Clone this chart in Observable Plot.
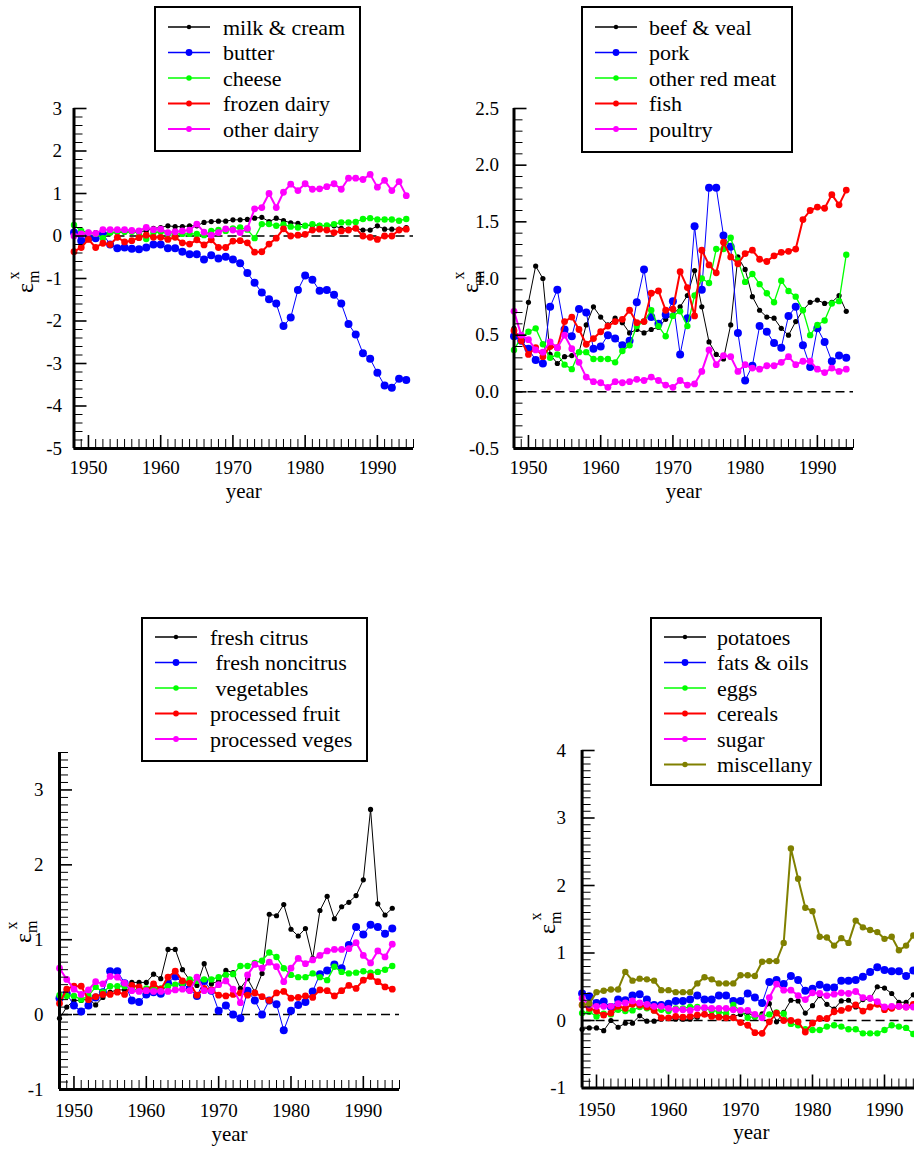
<!DOCTYPE html>
<html><head><meta charset="utf-8">
<script src="https://cdn.jsdelivr.net/npm/d3@7"></script>
<script src="https://cdn.jsdelivr.net/npm/@observablehq/plot@0.6"></script>
<style>
html,body{margin:0;padding:0;background:#fff;overflow:hidden;}
#root{position:relative;width:914px;height:1152px;overflow:hidden;background:#fff;font-family:"Liberation Serif",serif;}
.panel{position:absolute;}
#overlay{position:absolute;left:0;top:0;}
</style></head><body><div id="root"></div>
<script>
const FONT = "Liberation Serif, Times New Roman, serif";

const years = [1948,1949,1950,1951,1952,1953,1954,1955,1956,1957,1958,1959,1960,1961,1962,1963,1964,1965,1966,1967,1968,1969,1970,1971,1972,1973,1974,1975,1976,1977,1978,1979,1980,1981,1982,1983,1984,1985,1986,1987,1988,1989,1990,1991,1992,1993,1994];
const xTickLabels = [1950,1960,1970,1980,1990];

// Panel 1: dairy
const milkCream = [0.00,0.02,0.03,0.08,0.06,0.07,0.08,0.09,0.10,0.10,
 0.12,0.18,0.20,0.24,0.22,0.22,0.24,0.24,0.32,0.34,
 0.35,0.35,0.38,0.38,0.39,0.42,0.44,0.34,0.42,0.36,
 0.31,0.30,0.24,0.25,0.25,0.24,0.24,0.18,0.16,0.18,
 0.14,0.14,0.24,0.16,0.16,0.16,0.20];
const butter = [0.08,-0.11,-0.05,-0.05,0.05,-0.20,-0.29,-0.27,-0.30,-0.31,
 -0.27,-0.20,-0.20,-0.29,-0.29,-0.37,-0.43,-0.43,-0.55,-0.45,
 -0.53,-0.49,-0.55,-0.64,-0.87,-1.10,-1.33,-1.49,-1.59,-2.12,
 -1.92,-1.27,-0.93,-1.03,-1.29,-1.27,-1.38,-1.59,-2.07,-2.32,
 -2.76,-2.89,-3.22,-3.52,-3.57,-3.36,-3.39];
const cheese = [0.26,0.12,0.08,0.05,-0.05,0.08,0.10,0.10,0.10,0.08,
 -0.07,0.08,0.10,0.05,0.05,0.05,0.05,0.05,0.02,0.12,
 0.14,0.12,0.18,0.20,0.15,-0.05,0.28,0.28,0.24,0.27,
 0.22,0.20,0.24,0.28,0.24,0.25,0.28,0.32,0.32,0.33,
 0.40,0.42,0.39,0.39,0.39,0.36,0.40];
const frozenDairy = [-0.37,-0.27,-0.08,-0.27,-0.17,-0.20,-0.03,-0.14,-0.11,-0.04,
 0.02,-0.03,-0.03,-0.08,-0.03,-0.16,-0.19,-0.09,-0.21,-0.09,
 -0.27,-0.27,-0.12,-0.11,-0.16,-0.38,-0.37,-0.19,-0.05,0.17,
 0.00,0.02,0.04,0.14,0.16,0.14,0.08,0.12,0.14,0.18,
 0.00,-0.03,-0.08,0.00,0.00,0.14,0.16];
const otherDairy = [0.00,0.05,0.08,0.06,0.15,0.15,0.15,0.15,0.13,0.12,
 0.20,0.15,0.16,0.08,0.10,0.12,0.14,0.28,0.09,0.02,
 0.08,0.17,0.14,0.08,0.18,0.64,0.67,1.00,0.67,1.03,
 1.22,1.07,1.23,1.10,1.11,1.16,1.23,1.10,1.36,1.36,
 1.33,1.45,1.15,1.31,1.07,1.28,0.95];

// Panel 2: meats
const beefVeal = [0.56,0.45,0.79,1.11,1.00,0.33,0.25,0.31,0.32,0.35,
 0.59,0.75,0.66,0.59,0.65,0.61,0.52,0.55,0.52,0.55,
 0.57,0.64,0.68,0.75,0.85,1.07,0.75,0.44,0.33,0.29,
 0.59,1.19,1.08,0.84,0.72,0.66,0.65,0.56,0.50,0.62,
 0.72,0.79,0.81,0.78,0.79,0.85,0.71];
const pork = [0.49,0.45,0.38,0.28,0.25,0.75,0.90,0.55,0.49,0.73,
 0.70,0.38,0.40,0.50,0.47,0.41,0.45,0.79,1.08,0.66,
 0.60,0.68,0.80,0.33,0.65,1.46,0.90,1.80,1.80,1.38,
 1.28,0.52,0.10,0.23,0.58,0.53,0.43,0.39,0.67,0.75,
 0.41,0.22,0.56,0.44,0.27,0.32,0.30];
const otherRedMeat = [0.37,0.48,0.53,0.56,0.42,0.30,0.33,0.24,0.20,0.35,
 0.35,0.29,0.29,0.29,0.26,0.36,0.41,0.58,0.62,0.72,
 0.58,0.49,0.67,0.71,0.58,0.85,1.00,0.96,1.26,1.26,
 1.36,1.16,0.97,1.04,0.95,0.87,0.79,0.98,0.89,0.84,
 0.72,0.50,0.59,0.63,0.78,0.80,1.21];
const fish = [0.54,0.45,0.33,0.39,0.31,0.40,0.39,0.62,0.66,0.55,
 0.42,0.47,0.53,0.58,0.62,0.64,0.72,0.61,0.62,0.87,
 0.89,0.72,0.73,1.06,0.92,0.67,1.25,1.12,1.05,1.32,
 1.19,1.13,1.22,1.25,1.17,1.15,1.20,1.23,1.24,1.26,
 1.52,1.60,1.63,1.62,1.74,1.65,1.78];
const poultry = [0.71,0.50,0.46,0.37,0.35,0.44,0.39,0.50,0.38,0.26,
 0.13,0.09,0.08,0.04,0.09,0.08,0.09,0.11,0.10,0.13,
 0.10,0.06,0.04,0.10,0.06,0.07,0.18,0.37,0.24,0.32,
 0.31,0.18,0.24,0.21,0.20,0.23,0.23,0.26,0.31,0.24,
 0.27,0.27,0.20,0.17,0.21,0.18,0.20];

// Panel 3: fruit & vegetables
const freshCitrus = [-0.05,0.10,0.19,0.19,0.21,0.13,0.23,0.30,0.33,0.33,
 0.43,0.43,0.43,0.54,0.48,0.87,0.87,0.60,0.46,0.39,
 0.68,0.41,0.45,0.59,0.56,0.35,0.48,0.30,0.55,1.34,
 1.32,1.47,1.14,1.05,1.15,0.75,1.39,1.58,1.28,1.44,
 1.50,1.59,1.80,2.74,1.48,1.33,1.42];
const freshNoncitrus = [0.22,0.28,0.12,0.04,0.12,0.23,0.30,0.58,0.58,0.42,
 0.19,0.17,0.27,0.30,0.28,0.42,0.51,0.42,0.34,0.25,
 0.45,0.32,0.05,0.12,0.00,-0.05,0.32,0.19,0.00,0.19,
 0.14,-0.21,0.05,0.13,0.17,0.31,0.54,0.59,0.67,0.62,
 0.93,1.17,1.07,1.20,1.17,1.08,1.15];
const vegetables = [0.26,0.25,0.25,0.20,0.25,0.37,0.30,0.38,0.38,0.38,
 0.35,0.32,0.35,0.35,0.35,0.38,0.40,0.42,0.47,0.45,
 0.47,0.47,0.50,0.53,0.54,0.65,0.65,0.69,0.72,0.83,
 0.77,0.62,0.53,0.50,0.50,0.55,0.50,0.46,0.64,0.57,
 0.55,0.56,0.58,0.56,0.57,0.60,0.65];
const processedFruit = [0.15,0.34,0.38,0.38,0.20,0.24,0.27,0.27,0.30,0.27,
 0.39,0.37,0.32,0.41,0.34,0.50,0.58,0.45,0.42,0.26,
 0.35,0.33,0.26,0.25,0.27,0.29,0.26,0.29,0.24,0.19,
 0.29,0.31,0.22,0.23,0.25,0.23,0.33,0.32,0.25,0.32,
 0.39,0.35,0.46,0.51,0.44,0.37,0.34];
const processedVeges = [0.62,0.47,0.34,0.27,0.33,0.44,0.41,0.51,0.50,0.42,
 0.32,0.31,0.32,0.31,0.31,0.31,0.33,0.34,0.32,0.50,
 0.32,0.32,0.40,0.45,0.34,0.16,0.53,0.67,0.62,0.70,
 0.64,0.44,0.62,0.75,0.68,0.73,0.79,0.85,0.87,0.87,
 0.88,0.96,0.79,0.69,0.85,0.77,0.94];

// Panel 4: other foods
const potatoes = [-0.13,-0.11,-0.11,-0.15,0.00,-0.10,-0.04,-0.04,0.07,-0.01,
 -0.01,0.02,0.03,0.02,0.02,0.02,0.05,0.10,0.08,0.06,
 0.05,0.06,0.09,0.12,0.05,0.10,0.25,-0.02,0.12,0.30,
 0.29,0.11,0.22,0.37,0.24,0.17,0.29,0.30,0.20,0.31,
 0.32,0.50,0.48,0.40,0.27,0.27,0.38];
const fatsOils = [0.40,0.36,0.26,0.28,0.20,0.31,0.30,0.37,0.39,0.31,
 0.23,0.23,0.25,0.29,0.29,0.31,0.37,0.31,0.31,0.37,
 0.37,0.29,0.29,0.40,0.34,0.26,0.57,0.60,0.54,0.66,
 0.60,0.44,0.47,0.53,0.49,0.49,0.59,0.59,0.60,0.65,
 0.72,0.79,0.75,0.73,0.73,0.66,0.74];
const eggs = [0.11,0.13,0.06,0.10,0.09,0.16,0.14,0.15,0.20,0.18,
 0.15,0.16,0.14,0.18,0.18,0.20,0.20,0.18,0.15,0.13,
 0.10,0.23,0.14,0.04,0.06,0.06,0.09,0.12,0.10,-0.05,
 -0.07,-0.13,-0.14,-0.14,-0.09,-0.07,-0.09,-0.13,-0.13,-0.19,
 -0.19,-0.19,-0.14,-0.07,-0.09,-0.11,-0.20];
const cereals = [0.23,0.18,0.14,0.08,0.11,0.21,0.18,0.24,0.23,0.20,
 0.15,0.04,0.04,0.06,0.05,0.06,0.08,0.09,0.06,0.05,
 0.04,0.04,-0.03,-0.07,-0.18,-0.19,-0.02,0.11,0.00,0.00,
 -0.02,-0.17,-0.04,0.03,0.03,0.13,0.15,0.18,0.23,0.14,
 0.20,0.24,0.16,0.18,0.21,0.20,0.24];
const sugar = [0.33,0.23,0.21,0.21,0.21,0.25,0.26,0.29,0.26,0.24,
 0.21,0.21,0.18,0.16,0.16,0.15,0.18,0.19,0.18,0.18,
 0.18,0.16,0.15,0.15,0.09,0.04,0.34,0.54,0.45,0.45,
 0.37,0.31,0.41,0.40,0.37,0.39,0.41,0.40,0.43,0.34,
 0.33,0.28,0.20,0.21,0.21,0.20,0.20];
const miscellany = [0.23,0.25,0.42,0.44,0.46,0.46,0.72,0.59,0.62,0.61,
 0.59,0.45,0.45,0.42,0.42,0.42,0.55,0.64,0.61,0.55,
 0.55,0.55,0.67,0.67,0.66,0.87,0.88,0.88,1.15,2.55,
 2.10,1.67,1.62,1.24,1.23,1.11,1.22,1.15,1.48,1.38,
 1.34,1.31,1.21,1.24,1.04,1.11,1.26];

// y tick labels per panel
const yTicks1 = [-5,-4,-3,-2,-1,0,1,2,3];
const yTicks2 = [-0.5,0.0,0.5,1.0,1.5,2.0,2.5];
const yTicks3 = [-1,0,1,2,3];
const yTicks4 = [-1,0,1,2,3,4];

const BLACK="#000000", BLUE="#0000ff", GREEN="#00ff00", RED="#ff0000", MAGENTA="#ff00ff", OLIVE="#808000";
const sty = {
  black:{color:BLACK, r:2.6, sw:1},
  blue:{color:BLUE, r:4, sw:1},
  green:{color:GREEN, r:3.2, sw:1.3},
  red:{color:RED, r:3.4, sw:2},
  magenta:{color:MAGENTA, r:3.4, sw:2},
  olive:{color:OLIVE, r:3.2, sw:2}
};

const panels = [
  {left:0, top:0, width:460, height:510, mL:73.5, mR:47, mT:108, mB:62, ydom:[-5,3], ymaj:yTicks1, ystep:0.2, yfmt:d=>String(d), pad:12, xpad:12, ydy:49,
   series:[["milk & cream",milkCream,"black"],["butter",butter,"blue"],["cheese",cheese,"green"],["frozen dairy",frozenDairy,"red"],["other dairy",otherDairy,"magenta"]],
   legend:{x:155,y:7,w:205,h:144,sx1:168,sx2:210,tx:223,ry:27},
   ylab:{x:33,y:293}},
  {left:460, top:0, width:454, height:510, mL:53.5, mR:61, mT:108, mB:62, ydom:[-0.5,2.5], ymaj:yTicks2, ystep:0.1, yfmt:d=>d.toFixed(1), pad:15, xpad:12, ydy:49,
   series:[["beef & veal",beefVeal,"black"],["pork",pork,"blue"],["other red meat",otherRedMeat,"green"],["fish",fish,"red"],["poultry",poultry,"magenta"]],
   legend:{x:582,y:7,w:210,h:145,sx1:595,sx2:637,tx:649,ry:27},
   ylab:{x:478,y:293}},
  {left:0, top:576, width:460, height:576, mL:59, mR:61, mT:176, mB:63, ydom:[-1,3.5], ymaj:yTicks3, ystep:0.1, yfmt:d=>String(d), pad:16, xpad:14, ydy:51,
   series:[["fresh citrus",freshCitrus,"black"],["\u00a0fresh noncitrus",freshNoncitrus,"blue"],["\u00a0vegetables",vegetables,"green"],["processed fruit",processedFruit,"red"],["processed veges",processedVeges,"magenta"]],
   legend:{x:142,y:618,w:225,h:143,sx1:155,sx2:197,tx:210,ry:637},
   ylab:{x:31,y:943}},
  {left:460, top:576, width:470, height:576, mL:121.6, mR:10, mT:174, mB:64.5, ydom:[-1,4], ymaj:yTicks4, ystep:0.1, yfmt:d=>String(d), pad:16, xpad:14, ydy:51,
   series:[["potatoes",potatoes,"black"],["fats & oils",fatsOils,"blue"],["eggs",eggs,"green"],["cereals",cereals,"red"],["sugar",sugar,"magenta"],["miscellany",miscellany,"olive"]],
   legend:{x:651,y:618,w:170,h:167,sx1:664,sx2:706,tx:717,ry:637},
   ylab:{x:555,y:934}}
];

const root = document.getElementById("root");
const xMinor = years.slice(1).concat([1995]).filter(y => y % 10 !== 0);

for (const p of panels) {
  const plotW = p.width - p.mL - p.mR, plotH = p.height - p.mT - p.mB;
  const n = Math.round((p.ydom[1]-p.ydom[0])/p.ystep);
  const yMinor = d3.range(n+1).map(i => Math.round((p.ydom[0] + i*p.ystep)*1000)/1000)
    .filter(v => !p.ymaj.some(m => Math.abs(m - v) < 1e-6));
  const seriesMarks = p.series.flatMap(([name, vals, key]) => {
    const s = sty[key];
    const data = vals.map((v,i) => ({year: years[i], value: v, name}));
    return [
      Plot.line(data, {x:"year", y:"value", stroke:s.color, strokeWidth:s.sw}),
      Plot.dot(data, {x:"year", y:"value", fill:s.color, r:s.r})
    ];
  });
  const chart = Plot.plot({
    width:p.width, height:p.height,
    marginLeft:p.mL, marginRight:p.mR, marginTop:p.mT, marginBottom:p.mB,
    x:{domain:[1948,1995]},
    y:{domain:p.ydom},
    style:{fontFamily:FONT, fontSize:"19px", color:"#000", background:"transparent", overflow:"visible"},
    marks:[
      Plot.ruleY([0], {stroke:"#000", strokeWidth:1.5, strokeDasharray:"9,5"}),
      ...seriesMarks,
      Plot.tickY(yMinor, {y:d=>d, stroke:"#000", strokeWidth:1, insetRight: plotW - 9}),
      Plot.tickY(p.ymaj, {y:d=>d, stroke:"#000", strokeWidth:1.6, insetRight: plotW - 13}),
      Plot.tickX(xMinor, {x:d=>d, stroke:"#000", strokeWidth:1, insetTop: plotH - 9}),
      Plot.tickX(xTickLabels, {x:d=>d, stroke:"#000", strokeWidth:1.6, insetTop: plotH - 13}),
      Plot.ruleX([1948], {stroke:"#000", strokeWidth:3}),
      Plot.ruleY([p.ydom[0]], {stroke:"#000", strokeWidth:3}),
      Plot.axisY({ticks:p.ymaj, tickSize:0, tickPadding:p.pad, tickFormat:p.yfmt, label:null, fontSize:19, fontFamily:FONT}),
      Plot.axisX({ticks:xTickLabels, tickSize:0, tickPadding:p.xpad, tickFormat:d=>String(d), label:null, fontSize:19, fontFamily:FONT}),
      Plot.text(["year"], {text:d=>d, frameAnchor:"bottom", dy:p.ydy, fontSize:21, fontFamily:FONT})
    ]
  });
  const div = document.createElement("div");
  div.className = "panel";
  div.style.left = p.left + "px"; div.style.top = p.top + "px";
  div.style.width = p.width + "px"; div.style.height = p.height + "px";
  div.appendChild(chart);
  root.appendChild(div);
}

// overlay: legends and y-axis labels
const ov = d3.select(root).append("svg").attr("id","overlay").attr("width",914).attr("height",1152)
  .attr("font-family", FONT);
for (const p of panels) {
  const L = p.legend;
  ov.append("rect").attr("x",L.x).attr("y",L.y).attr("width",L.w).attr("height",L.h)
    .attr("fill","#fff").attr("stroke","#000").attr("stroke-width",2);
  p.series.forEach(([name, vals, key], i) => {
    const s = sty[key];
    const y = L.ry + i*25.5;
    ov.append("line").attr("x1",L.sx1).attr("x2",L.sx2).attr("y1",y).attr("y2",y)
      .attr("stroke",s.color).attr("stroke-width",Math.max(s.sw,1.3));
    ov.append("circle").attr("cx",(L.sx1+L.sx2)/2).attr("cy",y).attr("r",s.r*0.85).attr("fill",s.color);
    ov.append("text").attr("x",L.tx).attr("y",y).attr("dy","0.35em").attr("font-size",22)
      .attr("font-family", FONT).attr("fill","#000").style("white-space","pre").text(name);
  });
  const t = ov.append("text").attr("transform",`translate(${p.ylab.x},${p.ylab.y}) rotate(-90)`)
    .attr("font-family", FONT).attr("fill","#000");
  t.append("tspan").attr("font-size",24).text("ε");
  t.append("tspan").attr("font-size",16).attr("dy",6).text("m");
  t.append("tspan").attr("font-size",16).attr("dx",-9).attr("dy",-20).text("x");
}
</script></body></html>
